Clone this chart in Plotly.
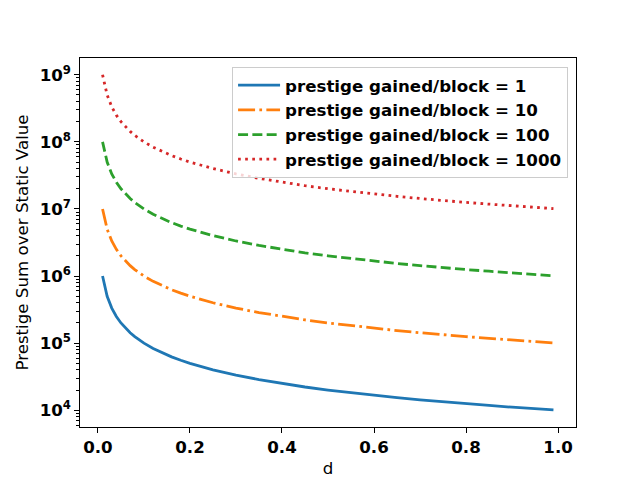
import plotly.graph_objects as go

d = [0.01, 0.02, 0.03, 0.04, 0.05, 0.06, 0.07, 0.08, 0.09, 0.10,
     0.12, 0.14, 0.16, 0.18, 0.20, 0.25, 0.30, 0.35, 0.40, 0.45,
     0.50, 0.55, 0.60, 0.65, 0.70, 0.75, 0.80, 0.85, 0.90, 0.95, 0.99]

gain_1 = [1.0e6, 5.0e5, 3.33e5, 2.5e5, 2.0e5, 1.67e5, 1.43e5, 1.25e5, 1.11e5, 1.0e5,
          8.33e4, 7.14e4, 6.25e4, 5.56e4, 5.0e4, 4.0e4, 3.33e4, 2.86e4, 2.5e4, 2.22e4,
          2.0e4, 1.82e4, 1.67e4, 1.54e4, 1.43e4, 1.33e4, 1.25e4, 1.18e4, 1.11e4, 1.05e4, 1.01e4]
gain_10 = [1.0e7, 5.0e6, 3.33e6, 2.5e6, 2.0e6, 1.67e6, 1.43e6, 1.25e6, 1.11e6, 1.0e6,
           8.33e5, 7.14e5, 6.25e5, 5.56e5, 5.0e5, 4.0e5, 3.33e5, 2.86e5, 2.5e5, 2.22e5,
           2.0e5, 1.82e5, 1.67e5, 1.54e5, 1.43e5, 1.33e5, 1.25e5, 1.18e5, 1.11e5, 1.05e5, 1.01e5]
gain_100 = [1.0e8, 5.0e7, 3.33e7, 2.5e7, 2.0e7, 1.67e7, 1.43e7, 1.25e7, 1.11e7, 1.0e7,
            8.33e6, 7.14e6, 6.25e6, 5.56e6, 5.0e6, 4.0e6, 3.33e6, 2.86e6, 2.5e6, 2.22e6,
            2.0e6, 1.82e6, 1.67e6, 1.54e6, 1.43e6, 1.33e6, 1.25e6, 1.18e6, 1.11e6, 1.05e6, 1.01e6]
gain_1000 = [1.0e9, 5.0e8, 3.33e8, 2.5e8, 2.0e8, 1.67e8, 1.43e8, 1.25e8, 1.11e8, 1.0e8,
             8.33e7, 7.14e7, 6.25e7, 5.56e7, 5.0e7, 4.0e7, 3.33e7, 2.86e7, 2.5e7, 2.22e7,
             2.0e7, 1.82e7, 1.67e7, 1.54e7, 1.43e7, 1.33e7, 1.25e7, 1.18e7, 1.11e7, 1.05e7, 1.01e7]

names = ["prestige gained/block = 1", "prestige gained/block = 10",
         "prestige gained/block = 100", "prestige gained/block = 1000"]
series = [gain_1, gain_10, gain_100, gain_1000]
colors = ["#1f77b4", "#ff7f0e", "#2ca02c", "#d62728"]
dashes = ["solid", "17px,4.3px,2.7px,4.3px", "10px,4.3px", "2.7px,4.4px"]

y_tickvals = [1e4, 1e5, 1e6, 1e7, 1e8, 1e9]
y_ticktext = ["<b>10<sup>4</sup></b>", "<b>10<sup>5</sup></b>", "<b>10<sup>6</sup></b>",
              "<b>10<sup>7</sup></b>", "<b>10<sup>8</sup></b>", "<b>10<sup>9</sup></b>"]
x_tickvals = [0.0, 0.2, 0.4, 0.6, 0.8, 1.0]
x_ticktext = ["<b>0.0</b>", "<b>0.2</b>", "<b>0.4</b>", "<b>0.6</b>", "<b>0.8</b>", "<b>1.0</b>"]

minor_vals = [m * 10 ** e for e in range(3, 10) for m in range(2, 10)]

fig = go.Figure()
for name, ys, c, dsh in zip(names, series, colors, dashes):
    fig.add_trace(go.Scatter(x=d, y=ys, mode="lines", name=name,
                             line=dict(color=c, width=2.8, dash=dsh)))

font_family = "DejaVu Sans"
fs = 16.67
fig.update_layout(
    width=640, height=480,
    margin=dict(l=72, r=72, t=50, b=61),
    paper_bgcolor="white", plot_bgcolor="white",
    font=dict(family=font_family, size=fs, color="black"),
    showlegend=True,
    legend=dict(x=0.984, y=0.976, xanchor="right", yanchor="top", itemwidth=42,
                bgcolor="rgba(255,255,255,0.8)", bordercolor="#cccccc", borderwidth=1,
                font=dict(family=font_family, size=fs, color="black", weight="bold")),
    xaxis=dict(range=[-0.039, 1.039], tickvals=x_tickvals, ticktext=x_ticktext,
               showgrid=False, zeroline=False, showline=True, linecolor="black", linewidth=1,
               mirror=True, ticks="outside", ticklen=4.7, tickwidth=1, tickcolor="black",
               tickfont=dict(size=fs),
               title=dict(text="d", font=dict(size=fs), standoff=6)),
    yaxis=dict(type="log", range=[3.75, 9.25], tickvals=y_tickvals, ticktext=y_ticktext,
               showgrid=False, zeroline=False, showline=True, linecolor="black", linewidth=1,
               mirror=True, ticks="outside", ticklen=4.7, tickwidth=1, tickcolor="black",
               tickfont=dict(size=fs),
               minor=dict(tickvals=minor_vals, ticks="outside", ticklen=2.7, tickwidth=0.8,
                          tickcolor="black", showgrid=False),
               title=dict(text="Prestige Sum over Static Value", font=dict(size=fs), standoff=6)),
)

fig.write_html("out.html")
